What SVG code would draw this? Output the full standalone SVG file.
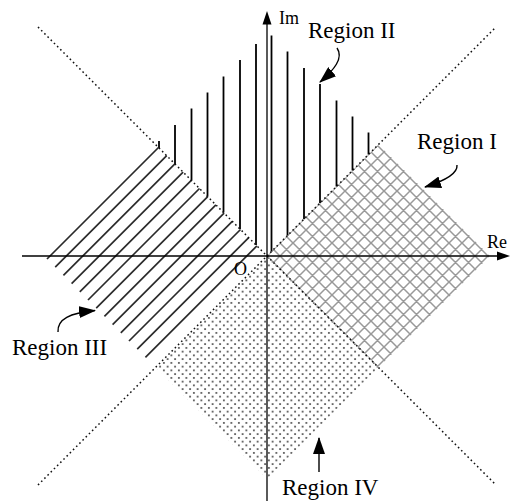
<svg xmlns="http://www.w3.org/2000/svg" width="510" height="501" viewBox="0 0 510 501">
  <style>
    .lbl { font-family: "Liberation Serif", "Times New Roman", serif; fill: #000; }
    .reg { font-size: 23px; }
    .ax { font-size: 18px; }
    .axis { stroke: #000; stroke-width: 1.3; fill: none; }
    .diag { stroke: #111; stroke-width: 1.5; stroke-dasharray: 1.6 2.9; fill: none; }
    .vl { stroke: #000; stroke-width: 1.8; }
    .hl { stroke: #2a2a2a; stroke-width: 1.7; }
    .conn { stroke: #000; stroke-width: 1.4; fill: none; marker-end: url(#ah); }
  </style>
  <defs>
    <marker id="ah" markerUnits="userSpaceOnUse" markerWidth="17" markerHeight="12" viewBox="0 0 17 12" refX="16" refY="6" orient="auto">
      <path d="M0,0 L17,6 L0,12 z" fill="#000"/>
    </marker>
    <pattern id="cross" patternUnits="userSpaceOnUse" x="267" y="256" width="13" height="13">
      <path d="M0,0 L13,13 M13,0 L0,13 M-2,2 L2,-2 M11,15 L15,11 M11,-2 L15,2 M-2,11 L2,15" stroke="#999" stroke-width="1.5"/>
    </pattern>
    <pattern id="dots" patternUnits="userSpaceOnUse" x="267" y="256" width="7.5" height="7.5">
      <circle cx="1.875" cy="1.875" r="1.05" fill="#444"/>
      <circle cx="5.625" cy="5.625" r="1.05" fill="#444"/>
    </pattern>
  </defs>

  <g id="region-I">
    <polygon points="267,256 378.5,144.5 490,256 378.5,367.5" fill="url(#cross)"/>
  </g>

  <g id="region-IV">
    <polygon points="267,256 378.5,367.5 267,479 155.5,367.5" fill="url(#dots)"/>
  </g>

  <g id="region-II">
    <line class="vl" x1="159" y1="141" x2="159" y2="148"/>
    <line class="vl" x1="175" y1="125" x2="175" y2="164"/>
    <line class="vl" x1="191.5" y1="108.5" x2="191.5" y2="180.5"/>
    <line class="vl" x1="207.5" y1="92.5" x2="207.5" y2="196.5"/>
    <line class="vl" x1="223.5" y1="76.5" x2="223.5" y2="212.5"/>
    <line class="vl" x1="240" y1="60" x2="240" y2="229"/>
    <line class="vl" x1="256" y1="44" x2="256" y2="245"/>
    <line class="vl" x1="271.5" y1="35.5" x2="271.5" y2="251.5"/>
    <line class="vl" x1="287.5" y1="51.5" x2="287.5" y2="235.5"/>
    <line class="vl" x1="304" y1="68" x2="304" y2="219"/>
    <line class="vl" x1="320" y1="84" x2="320" y2="203"/>
    <line class="vl" x1="336.5" y1="100.5" x2="336.5" y2="186.5"/>
    <line class="vl" x1="352.5" y1="116.5" x2="352.5" y2="170.5"/>
    <line class="vl" x1="368.5" y1="132.5" x2="368.5" y2="154.5"/>
  </g>

  <g id="region-III">
    <line class="hl" x1="47" y1="259" x2="158.5" y2="147.5"/>
    <line class="hl" x1="55.2" y1="267.2" x2="166.7" y2="155.7"/>
    <line class="hl" x1="63.4" y1="275.4" x2="174.9" y2="163.9"/>
    <line class="hl" x1="71.6" y1="283.6" x2="183.1" y2="172.1"/>
    <line class="hl" x1="79.8" y1="291.8" x2="191.3" y2="180.3"/>
    <line class="hl" x1="88" y1="300" x2="199.5" y2="188.5"/>
    <line class="hl" x1="96.2" y1="308.2" x2="207.7" y2="196.7"/>
    <line class="hl" x1="104.4" y1="316.4" x2="215.9" y2="204.9"/>
    <line class="hl" x1="112.6" y1="324.6" x2="224.1" y2="213.1"/>
    <line class="hl" x1="120.8" y1="332.8" x2="232.3" y2="221.3"/>
    <line class="hl" x1="129" y1="341" x2="240.5" y2="229.5"/>
    <line class="hl" x1="137.2" y1="349.2" x2="248.7" y2="237.7"/>
    <line class="hl" x1="145.4" y1="357.4" x2="256.9" y2="245.9"/>
  </g>

  <g id="diagonals">
    <line class="diag" x1="38" y1="27" x2="496" y2="485"/>
    <line class="diag" x1="38" y1="485" x2="496" y2="27"/>
  </g>

  <g id="axes">
    <line class="axis" x1="22" y1="256" x2="500" y2="256"/>
    <path d="M510,256 L497,251.5 L497,260.5 z" fill="#000"/>
    <line class="axis" x1="267" y1="501" x2="267" y2="20"/>
    <path d="M267,11 L262.5,24.5 L271.5,24.5 z" fill="#000"/>
    <text class="lbl ax" x="279" y="23.5">Im</text>
    <text class="lbl ax" x="487" y="247.5">Re</text>
    <text class="lbl ax" x="234" y="275">O</text>
  </g>

  <g id="labels">
    <text id="label-region-II" class="lbl reg" x="308" y="37.5">Region II</text>
    <text id="label-region-I" class="lbl reg" x="417" y="148.5">Region I</text>
    <text id="label-region-III" class="lbl reg" x="12" y="355">Region III</text>
    <text id="label-region-IV" class="lbl reg" x="282" y="495">Region IV</text>
  </g>

  <g id="connectors">
    <path class="conn" d="M337,48 C344,58 334,70 320,82"/>
    <path class="conn" d="M457,165 C458,175 441,182 425,187"/>
    <path class="conn" d="M58,332 C57,319 70,313 95,310.5"/>
    <path class="conn" d="M319,472 L319,438"/>
  </g>
</svg>
